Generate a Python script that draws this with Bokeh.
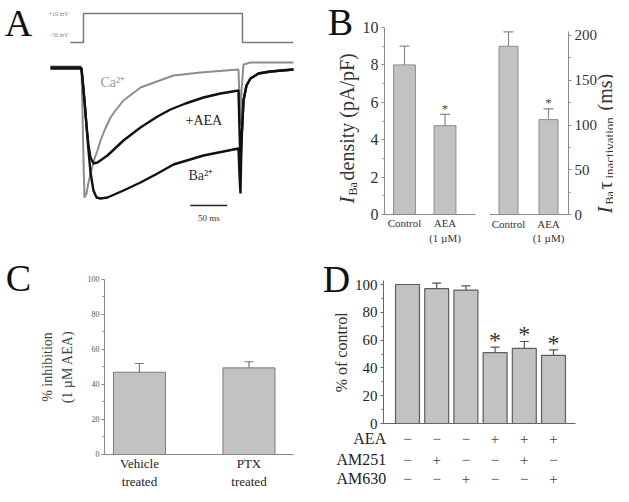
import math
from bokeh.plotting import figure
from bokeh.layouts import row, column
from bokeh.models import (Range1d, Label, LabelSet, ColumnDataSource, Whisker,
                          TeeHead, FixedTicker, LinearAxis)
from bokeh.core.properties import value
from bokeh.embed import file_html
from bokeh.resources import INLINE

# ---------------- data ----------------
# Panel A: voltage protocol (ms, mV)
volt_t = [-15, 2.7, 2.7, 217.5, 217.5, 286]
volt_mv = [-50, -50, 10, 10, -50, -50]

# Panel A: current traces (ms, nA)
ca_t = [-41.9, -1.35, 0, 1.35, 2.7, 4.05, 6.76, 9.46, 12.2, 17.6, 21.6, 25.7, 31.1,
        39.2, 45.9, 56.7, 79.7, 124.3, 160.8, 212.1, 213.5, 214.8, 216.2, 218.9,
        228.3, 286.4]
ca_i = [0.01, 0.01, -0.01, -0.43, -0.93, -1.30, -1.26, -1.15, -1.06, -0.91, -0.83,
        -0.73, -0.63, -0.50, -0.43, -0.33, -0.20, -0.08, -0.05, -0.02, -0.33, -0.58,
        -0.23, 0.03, 0.05, 0.05]

aea_t = [-41.9, -1.35, 0, 1.35, 4.05, 6.76, 9.46, 12.2, 16.2, 21.6, 35.1, 56.7, 79.7,
         102.7, 120.2, 140.5, 164.8, 187.8, 212.1, 213.5, 214.8, 216.2, 218.9, 222.9,
         228.3, 239.1, 255.3, 286.4]
aea_i = [0.0, 0.0, -0.01, -0.11, -0.33, -0.58, -0.78, -0.90, -0.96, -0.95, -0.88,
         -0.73, -0.60, -0.49, -0.42, -0.36, -0.30, -0.26, -0.23, -0.63, -0.98, -0.73,
         -0.33, -0.18, -0.11, -0.06, -0.04, -0.02]

ba_t = [-41.9, -1.35, 0, 1.35, 4.05, 6.76, 9.46, 12.2, 16.2, 20.3, 25.7, 35.1, 56.7,
        79.7, 102.7, 124.3, 164.8, 212.1, 213.5, 214.8, 216.2, 218.9, 222.9, 228.3,
        239.1, 255.3, 286.4]
ba_i = [-0.01, -0.01, -0.02, -0.11, -0.33, -0.58, -0.83, -1.05, -1.23, -1.30, -1.31,
        -1.30, -1.23, -1.15, -1.06, -0.97, -0.88, -0.81, -1.08, -1.26, -0.73, -0.33,
        -0.18, -0.11, -0.06, -0.04, -0.02]

scale_bar_t = [147, 197]          # 50 ms
scale_bar_i = [-1.38, -1.38]

# Panel B
B_groups = ["Control", "AEA\n(1 \u00b5M)"]
B_density = [8.0, 4.75]
B_density_err = [1.0, 0.6]
B_tau = [188, 106]
B_tau_err = [16, 12]
B_sig = [False, True]

# Panel C
C_groups = ["Vehicle\ntreated", "PTX\ntreated"]
C_inhib = [47, 49.5]
C_inhib_err = [5, 3.5]

# Panel D
D_vals = [100, 97, 96, 51, 54, 49]
D_err = [0, 4, 3, 4, 5, 4]
D_sig = [False, False, False, True, True, True]
D_rows = ["AEA", "AM251", "AM630"]
D_AEA = ["\u2212", "\u2212", "\u2212", "+", "+", "+"]
D_AM251 = ["\u2212", "+", "\u2212", "\u2212", "+", "\u2212"]
D_AM630 = ["\u2212", "\u2212", "+", "\u2212", "\u2212", "+"]

SERIF = "Liberation Serif"
BAR_FILL = "#c2c2c2"
ROT = math.pi / 2


def panel(w, h, xr, yr):
    p = figure(width=w, height=h, x_range=Range1d(*xr), y_range=Range1d(*yr),
               toolbar_location=None, output_backend="svg",
               x_axis_location=None, y_axis_location=None, min_border=0)
    p.outline_line_color = None
    p.grid.visible = False
    p.background_fill_color = "white"
    p.border_fill_color = "white"
    return p


def letter(p, txt, x, y):
    p.add_layout(Label(x=x, y=y, text=txt, text_font=SERIF, text_font_size="38px",
                       text_color="#111111", text_align="center",
                       text_baseline="middle"))


def lab(p, txt, x, y, size, color="#333333", angle=0.0, align="left",
        baseline="middle", style="normal", **kw):
    p.add_layout(Label(x=x, y=y, text=txt, text_font=SERIF, text_font_size=size,
                       text_color=color, angle=angle, text_align=align,
                       text_baseline=baseline, text_font_style=style, **kw))


def whiskers(p, xs, vals, errs, color, size):
    keep = [i for i in range(len(xs)) if errs[i] > 0]
    src = ColumnDataSource(dict(x=[xs[i] for i in keep],
                                lo=[vals[i] for i in keep],
                                up=[vals[i] + errs[i] for i in keep]))
    p.add_layout(Whisker(source=src, base="x", lower="lo", upper="up",
                         line_color=color, line_width=1.2, lower_head=None,
                         upper_head=TeeHead(size=size, line_color=color,
                                            line_width=1.2),
                         level="annotation"))


def stars(p, xs, vals, errs, sig, size, color, yoff):
    keep = [i for i in range(len(xs)) if sig[i]]
    src = ColumnDataSource(dict(x=[xs[i] for i in keep],
                                y=[vals[i] + errs[i] for i in keep],
                                t=["*"] * len(keep)))
    p.add_layout(LabelSet(source=src, x="x", y="y", text="t", y_offset=yoff,
                          text_font=value(SERIF), text_font_size=value(size),
                          text_color=color, text_align="center",
                          text_baseline="middle"))


def y_axis(p, side, loc, bounds, ticks, minor, size, color, axcolor, standoff=3):
    ax = LinearAxis(fixed_location=loc, bounds=bounds,
                    ticker=FixedTicker(ticks=ticks, minor_ticks=minor))
    ax.axis_line_color = axcolor
    ax.major_tick_line_color = axcolor
    ax.minor_tick_line_color = axcolor
    ax.major_tick_in = 0
    ax.major_tick_out = 3
    ax.minor_tick_in = 0
    ax.minor_tick_out = 2
    ax.major_label_text_font = SERIF
    ax.major_label_text_font_size = size
    ax.major_label_text_color = color
    ax.major_label_standoff = standoff
    p.add_layout(ax, side)


def x_axis(p, bounds, labels, size, color, axcolor, standoff=3):
    ticks = list(range(1, len(labels) + 1))
    ax = LinearAxis(fixed_location=0, bounds=bounds,
                    ticker=FixedTicker(ticks=ticks))
    ax.major_label_overrides = {i + 1: s for i, s in enumerate(labels)}
    ax.axis_line_color = axcolor
    ax.major_tick_line_color = None
    ax.minor_tick_line_color = None
    ax.major_tick_in = 0
    ax.major_tick_out = 0
    ax.minor_tick_in = 0
    ax.minor_tick_out = 0
    ax.major_label_text_font = SERIF
    ax.major_label_text_font_size = size
    ax.major_label_text_color = color
    ax.major_label_standoff = standoff
    p.add_layout(ax, "below")


# ---------------- Panel A ----------------
pA = panel(320, 262, (-109.4, 322.9), (-1.95, 0.67))
pA.extra_y_ranges = {"mV": Range1d(-505.5, 36.9)}
pA.line(volt_t, volt_mv, y_range_name="mV", line_color="#7a7a7a", line_width=1.5)
pA.line(ca_t, ca_i, line_color="#8c8c8c", line_width=2.0)
pA.line(aea_t, aea_i, line_color="#111111", line_width=2.4)
pA.line(ba_t, ba_i, line_color="#111111", line_width=2.4)
pA.line(scale_bar_t, scale_bar_i, line_color="#222222", line_width=1.5)
lab(pA, "+10 mV", -31, 8, "6px", "#888888", align="center", y_range_name="mV")
lab(pA, "\u221250 mV", -31, -35.5, "6px", "#888888", align="center",
    y_range_name="mV")
lab(pA, "Ca\u00b2\u207a", 25.7, -0.15, "14px", "#9a9a9a")
lab(pA, "+AEA", 140.5, -0.53, "14px", "#222222")
lab(pA, "Ba\u00b2\u207a", 144.6, -1.08, "14px", "#333333")
lab(pA, "50 ms", 172, -1.50, "9px", "#333333", align="center")
letter(pA, "A", -85.1, 0.45)

# ---------------- Panel B (left) ----------------
xb = [1, 2]
pB1 = panel(158, 262, (-1.074, 2.827), (-2.567, 11.444))
pB1.vbar(x=xb, top=B_density, width=0.54, bottom=0, fill_color=BAR_FILL,
         line_color="#8c8c8c", line_width=1)
whiskers(pB1, xb, B_density, B_density_err, "#8a8a8a", 10)
stars(pB1, xb, B_density, B_density_err, B_sig, "13px", "#444444", 6)
y_axis(pB1, "left", 0.506, (0, 10), [0, 2, 4, 6, 8, 10], [1, 3, 5, 7, 9], "16px",
       "#333333", "#8a8a8a")
x_axis(pB1, (0.506, 2.753), B_groups, "11px", "#333333", "#8a8a8a")
lab(pB1, "I", -0.432, 0.59, "21px", "#333333", angle=ROT, style="italic")
lab(pB1, "Ba", -0.272, 1.02, "12px", "#333333", angle=ROT)
lab(pB1, "density (pA/pF)", -0.432, 1.82, "20px", "#333333", angle=ROT)
letter(pB1, "B", -0.58, 10.27)

# ---------------- Panel B (right) ----------------
pB2 = panel(135, 262, (0.25, 3.625), (-53.6, 239.1))
pB2.vbar(x=xb, top=B_tau, width=0.475, bottom=0, fill_color=BAR_FILL,
         line_color="#8c8c8c", line_width=1)
whiskers(pB2, xb, B_tau, B_tau_err, "#8a8a8a", 10)
stars(pB2, xb, B_tau, B_tau_err, B_sig, "13px", "#444444", 6)
y_axis(pB2, "right", 2.5, (0, 204.5), [0, 50, 100, 150, 200], [25, 75, 125, 175],
       "15px", "#333333", "#8a8a8a")
x_axis(pB2, (0.525, 2.5), B_groups, "11px", "#333333", "#8a8a8a")
lab(pB2, "I", 3.4, 1.1, "21px", "#333333", angle=ROT, style="italic")
lab(pB2, "Ba", 3.53, 11.2, "12px", "#333333", angle=ROT)
lab(pB2, "\u03c4", 3.4, 27.9, "20px", "#333333", angle=ROT)
lab(pB2, "inactivation", 3.53, 40.2, "13px", "#333333", angle=ROT)
lab(pB2, "(ms)", 3.4, 116.2, "20px", "#333333", angle=ROT)

# ---------------- Panel C ----------------
xc = [1, 2]
pC = panel(318, 224, (-0.269, 2.635), (-18.29, 109.71))
pC.vbar(x=xc, top=C_inhib, width=0.475, bottom=0, fill_color=BAR_FILL,
        line_color="#7a7a7a", line_width=1)
whiskers(pC, xc, C_inhib, C_inhib_err, "#777777", 9)
y_axis(pC, "left", 0.68, (0, 100), [0, 20, 40, 60, 80, 100], [10, 30, 50, 70, 90],
       "8px", "#555555", "#888888", standoff=2)
x_axis(pC, (0.68, 2.406), C_groups, "13px", "#222222", "#888888", standoff=2)
lab(pC, "% inhibition", 0.16, 50, "14px", "#444444", angle=ROT, align="center")
lab(pC, "(1 \u00b5M AEA)", 0.342, 50, "14px", "#444444", angle=ROT,
    align="center")
letter(pC, "C", -0.105, 101.1)

# ---------------- Panel D ----------------
xd = [1, 2, 3, 4, 5, 6]
pD = panel(295, 224, (-2.048, 8.055), (-45.32, 115.83))
pD.vbar(x=xd, top=D_vals, width=0.82, bottom=0, fill_color=BAR_FILL,
        line_color="#5e5e5e", line_width=1.2)
whiskers(pD, xd, D_vals, D_err, "#555555", 9)
stars(pD, xd, D_vals, D_err, D_sig, "24px", "#333333", 7)
y_axis(pD, "left", 0.178, (0, 103), [0, 20, 40, 60, 80, 100],
       [10, 30, 50, 70, 90], "15px", "#222222", "#666666")
x_axis(pD, (0.178, 6.753), [""] * len(xd), "1px", "#ffffff", "#666666")
lab(pD, "% of control", -1.26, 51.2, "16px", "#333333", angle=ROT,
    align="center")
row_offsets = [-15, -36, -55]
for name, signs, off in zip(D_rows, [D_AEA, D_AM251, D_AM630], row_offsets):
    lab(pD, name, 0.27, 0, "16px", "#222222", align="right", y_offset=off)
    src = ColumnDataSource(dict(x=xd, y=[0] * len(xd), t=signs))
    pD.add_layout(LabelSet(source=src, x="x", y="y", text="t", y_offset=off,
                           text_font=value(SERIF), text_font_size=value("15px"),
                           text_color="#444444", text_align="center",
                           text_baseline="middle"))
letter(pD, "D", -1.432, 104.3)

layout = column(row(pA, pB1, pB2), row(pC, pD))
open("out.html", "w").write(file_html(layout, INLINE))
